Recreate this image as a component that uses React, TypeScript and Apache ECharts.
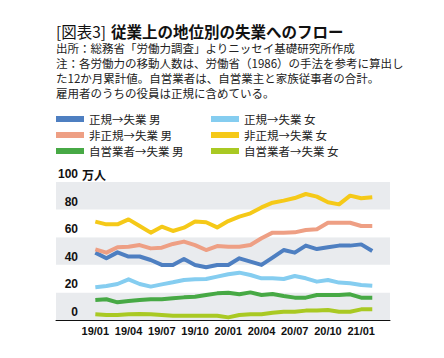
import React, { useEffect, useRef } from "react";
import * as echarts from "echarts";

const months = [
  "19/01", "19/02", "19/03", "19/04", "19/05", "19/06", "19/07", "19/08", "19/09",
  "19/10", "19/11", "19/12", "20/01", "20/02", "20/03", "20/04", "20/05", "20/06",
  "20/07", "20/08", "20/09", "20/10", "20/11", "20/12", "21/01", "21/02",
];
const xTickLabels = ["19/01", "19/04", "19/07", "19/10", "20/01", "20/04", "20/07", "20/10", "21/01"];

const seikiMale = [48.8, 44.7, 49.0, 46.0, 46.0, 43.5, 39.9, 39.9, 44.2, 39.9, 38.2, 39.9, 39.9, 44.7, 42.3, 39.9, 45.2, 50.7, 48.8, 53.9, 51.4, 52.7, 53.9, 53.9, 54.8, 50.0];
const hiseikiMale = [51.2, 48.8, 52.7, 53.1, 54.3, 51.9, 52.4, 55.1, 56.8, 54.3, 50.7, 53.6, 53.1, 53.1, 54.3, 59.2, 63.3, 63.3, 63.5, 65.2, 65.7, 70.5, 70.5, 70.5, 68.1, 68.1];
const jieiMale = [14.5, 15.0, 12.8, 13.8, 14.5, 15.0, 15.0, 15.7, 16.4, 16.9, 18.1, 19.3, 19.8, 18.6, 20.0, 18.1, 18.8, 17.4, 16.2, 16.2, 18.1, 18.1, 18.1, 18.6, 16.2, 16.2];
const seikiFemale = [23.7, 24.6, 26.1, 29.5, 26.1, 24.2, 25.8, 27.3, 29.0, 29.5, 29.7, 31.4, 33.1, 34.3, 32.6, 30.2, 30.2, 29.7, 31.9, 30.2, 27.8, 29.0, 27.1, 26.6, 25.4, 24.9];
const hiseikiFemale = [71.3, 69.3, 69.3, 72.9, 68.1, 63.3, 67.6, 64.5, 66.9, 71.3, 70.8, 67.1, 71.7, 74.9, 77.3, 81.6, 85.0, 86.5, 88.4, 91.3, 89.4, 85.3, 83.8, 90.1, 88.2, 88.9];
const jieiFemale = [4.1, 3.6, 3.6, 4.1, 4.3, 4.1, 3.6, 3.1, 3.1, 3.1, 3.1, 3.1, 1.9, 3.6, 4.1, 4.1, 5.3, 6.0, 6.0, 6.8, 6.8, 7.2, 6.0, 6.0, 7.7, 7.7];

const seriesNames = [
  "正規→失業 男", "非正規→失業 男", "自営業者→失業 男",
  "正規→失業 女", "非正規→失業 女", "自営業者→失業 女",
];
const seriesValues = [seikiMale, hiseikiMale, jieiMale, seikiFemale, hiseikiFemale, jieiFemale];
const seriesColors = ["#4e7fc1", "#ee9f84", "#47a945", "#85cdf0", "#f5c918", "#a9c923"];

const titleTag = "[図表3]";
const titleMain = "従業上の地位別の失業へのフロー";
const noteLines = [
  "出所：総務省「労働力調査」よりニッセイ基礎研究所作成",
  "注：各労働力の移動人数は、労働省（1986）の手法を参考に算出し",
  "た12か月累計値。自営業者は、自営業主と家族従事者の合計。",
  "雇用者のうちの役員は正規に含めている。",
];
const yUnit = "万人";

const JP = "'Noto Sans CJK JP', 'Noto Sans', sans-serif";
const NUM = "'Liberation Sans', Arial, 'Noto Sans CJK JP', sans-serif";

export default function App() {
  const ref = useRef<HTMLDivElement>(null);
  useEffect(() => {
    if (!ref.current) return;
    const chart = echarts.init(ref.current, null, { renderer: "svg" });
    const tickIdx = xTickLabels.map((l) => months.indexOf(l));
    const graphic: any[] = [
      {
        type: "text",
        x: 56,
        y: 31,
        style: {
          text: titleTag,
          fontSize: 15.5,
          lineHeight: 16,
          fontWeight: "normal",
          fontFamily: JP,
          fill: "#111",
          verticalAlign: "middle",
        },
      },
      {
        type: "text",
        x: 111,
        y: 31,
        style: {
          text: titleMain,
          fontSize: 15.5,
          lineHeight: 16,
          fontWeight: "bold",
          fontFamily: JP,
          fill: "#111",
          verticalAlign: "middle",
        },
      },
      ...noteLines.map((t, i) => ({
        type: "text",
        x: 56,
        y: 47.7 + i * 15,
        style: {
          text: t,
          fontSize: 11.5,
          lineHeight: 13,
          fontFamily: JP,
          fill: "#222",
          verticalAlign: "middle",
        },
      })),
      {
        type: "text",
        x: 82,
        y: 174.5,
        style: {
          text: yUnit,
          fontSize: 12,
          fontWeight: "bold",
          fontFamily: JP,
          fill: "#111",
          verticalAlign: "middle",
        },
      },
    ];
    const legendText = { fontSize: 11.5, fontFamily: JP, color: "#222", lineHeight: 16 };
    chart.setOption({
      animation: false,
      graphic,
      legend: [
        {
          left: 56, top: 111, orient: "vertical", padding: 0, itemGap: 0,
          itemWidth: 28, itemHeight: 6, icon: "rect",
          data: [seriesNames[0], seriesNames[1], seriesNames[2]],
          textStyle: legendText,
        },
        {
          left: 211, top: 111, orient: "vertical", padding: 0, itemGap: 0,
          itemWidth: 28, itemHeight: 6, icon: "rect",
          data: [seriesNames[3], seriesNames[4], seriesNames[5]],
          textStyle: legendText,
        },
      ],
      grid: { left: 56, right: 54, top: 182, bottom: 38, containLabel: false },
      xAxis: {
        type: "value",
        min: -3.55,
        max: 26.6,
        splitLine: { show: false },
        axisTick: { show: false },
        axisLine: { show: true, onZero: false, lineStyle: { color: "#111", width: 1 } },
        axisLabel: {
          customValues: tickIdx,
          formatter: (v: number) => months[Math.round(v)] ?? "",
          showMinLabel: true,
          showMaxLabel: true,
          hideOverlap: false,
          fontSize: 11,
          fontWeight: "bold",
          fontFamily: NUM,
          color: "#111",
          margin: 5,
        },
      },
      yAxis: {
        type: "value",
        min: 0,
        max: 100,
        interval: 20,
        axisLine: { show: false },
        axisTick: { show: false },
        splitLine: { show: false },
        splitArea: { show: true, areaStyle: { color: ["#e9ebee", "#ffffff"] } },
        axisLabel: {
          margin: -22,
          align: "right",
          verticalAlign: "bottom",
          padding: [0, 0, 2, 0],
          fontSize: 12,
          fontWeight: "bold",
          fontFamily: NUM,
          color: "#111",
        },
      },
      series: seriesNames.map((name, k) => ({
        name,
        type: "line",
        data: seriesValues[k].map((v, i) => [i, v]),
        showSymbol: false,
        symbol: "none",
        color: seriesColors[k],
        itemStyle: { color: seriesColors[k] },
        lineStyle: { color: seriesColors[k], width: 4, join: "round" },
      })),
    });
    return () => chart.dispose();
  }, []);
  return (
    <div
      ref={ref}
      style={{ position: "fixed", left: 0, top: 0, width: 444, height: 358, background: "#fff" }}
    />
  );
}
